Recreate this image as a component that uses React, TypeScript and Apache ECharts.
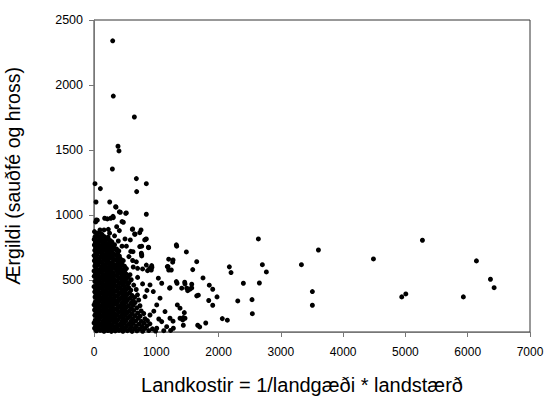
import React, { useEffect, useRef } from "react";
import * as echarts from "echarts";

const xTickValues = [0, 1000, 2000, 3000, 4000, 5000, 6000, 7000];
const yTickValues = [500, 1000, 1500, 2000, 2500];
const xTitle = "Landkostir = 1/landgæði * landstærð";
const yTitle = "Ærgildi (sauðfé og hross)";

// isolated high values
const outlierPoints = [
  [300, 2340], [310, 1915], [648, 1754], [385, 1529], [401, 1493], [295, 1354],
  [16, 1241], [102, 1203], [680, 1280], [840, 1241], [685, 1180], [32, 1100],
  [252, 1100], [353, 1060], [348, 1064], [407, 1024], [423, 1021], [519, 1016],
  [509, 1013], [840, 1006], [53, 960], [27, 947], [37, 962], [171, 975], [214, 970],
  [268, 975], [305, 990], [310, 980], [450, 949], [471, 944], [96, 885], [161, 885],
  [230, 890], [364, 910], [407, 880], [615, 890], [621, 893], [755, 885], [734, 864],
  [658, 852], [653, 854], [840, 816], [830, 813], [498, 816], [583, 808], [814, 808],
  [766, 760], [873, 752], [878, 749], [734, 757], [626, 718], [760, 706], [766, 695],
  [766, 685], [330, 840], [390, 800], [250, 860], [450, 760],
];

// sparse points to the right
const sparsePoints = [
  [1328, 760], [1322, 770], [2639, 816], [1483, 716], [1649, 641], [1585, 580],
  [2173, 601], [2200, 557], [2703, 618], [2767, 562], [1750, 516], [1456, 483],
  [2398, 475], [2655, 477], [1569, 467], [1408, 437], [1488, 437], [1542, 430],
  [1569, 439], [1504, 418], [1851, 460], [1906, 429], [1649, 378], [1675, 383],
  [1975, 370], [1842, 342], [2308, 339], [2537, 349], [1906, 306], [1450, 249],
  [2542, 241], [1434, 211], [1424, 193], [2060, 203], [2141, 191], [1794, 169],
  [1665, 152], [1697, 139], [1434, 152],
  [3603, 731], [3330, 618], [4486, 662], [3506, 411], [3506, 306],
  [5273, 806], [6140, 647], [6365, 506], [6424, 441], [4941, 370], [5006, 393],
  [5930, 370],
];

// fringe of the dense cluster
const fringePoints = [
  [1199, 660], [1263, 637], [1177, 603], [926, 611], [1269, 654], [1188, 603],
  [1241, 577], [1199, 577], [840, 615], [894, 590], [920, 577], [630, 600],
  [700, 590], [780, 585], [860, 572], [930, 598], [1322, 488], [1333, 475],
  [1461, 470], [1510, 431], [1214, 437], [1220, 441], [1033, 514], [1087, 475],
  [952, 411], [899, 462], [1060, 360], [819, 372], [1007, 308], [1338, 308],
  [1381, 283], [1140, 257], [899, 231], [1220, 206], [1381, 206], [1461, 206],
  [1269, 183], [1087, 180], [1167, 141], [1274, 129], [1007, 129], [1120, 110],
  [1230, 112], [560, 680], [620, 650], [700, 520], [780, 470], [850, 420],
  [960, 260], [1040, 200], [680, 640], [590, 720], [520, 760],
];

// dense cluster near the origin
const blobPoints = [
  [8, 872], [42, 858], [85, 866], [128, 851],
  [15, 832], [62, 838], [108, 826], [165, 834], [226, 829],
  [3, 812], [38, 806], [92, 815], [148, 804], [206, 811], [262, 803],
  [22, 791], [71, 786], [118, 795], [184, 788], [238, 781], [288, 792],
  [6, 769], [49, 774], [102, 764], [158, 772], [221, 766], [277, 760], [330, 771],
  [27, 749], [77, 755], [131, 744], [193, 752], [252, 741], [309, 748], [362, 739],
  [11, 728], [54, 735], [106, 722], [167, 731], [224, 725], [286, 719], [346, 733], [398, 724],
  [31, 708], [82, 714], [139, 701], [201, 711], [262, 704], [318, 698], [381, 709],
  [2, 688], [51, 694], [111, 682], [172, 691], [229, 686], [291, 679], [352, 692], [408, 684],
  [21, 669], [74, 662], [136, 673], [194, 664], [256, 671], [314, 660], [376, 668], [428, 661],
  [6, 648], [56, 654], [114, 642], [176, 651], [233, 645], [297, 638], [356, 652], [414, 643], [470, 649],
  [29, 628], [91, 633], [149, 622], [212, 631], [268, 624], [331, 618], [389, 629], [451, 621],
  [12, 608], [64, 613], [126, 602], [184, 611], [246, 604], [303, 598], [366, 609], [424, 601], [490, 606],
  [34, 589], [96, 582], [154, 593], [216, 586], [274, 579], [336, 591], [394, 584], [461, 578], [520, 588],
  [1, 569], [61, 574], [121, 563], [181, 572], [241, 566], [301, 559], [361, 571], [421, 563], [488, 568],
  [26, 548], [84, 554], [146, 543], [204, 551], [266, 545], [324, 539], [386, 552], [446, 544], [511, 549], [578, 541],
  [4, 529], [66, 533], [124, 524], [186, 531], [244, 526], [306, 519], [364, 532], [431, 523], [479, 529], [546, 521],
  [41, 509], [99, 514], [161, 503], [219, 511], [281, 505], [339, 499], [401, 512], [459, 504], [521, 509], [598, 502],
  [14, 489], [76, 493], [134, 484], [196, 491], [254, 485], [316, 479], [374, 492], [436, 483], [499, 488], [561, 481],
  [46, 469], [104, 474], [166, 463], [224, 471], [286, 465], [344, 459], [406, 472], [469, 463], [541, 468], [638, 461],
  [1, 449], [59, 453], [121, 444], [179, 451], [241, 445], [299, 439], [361, 452], [419, 443], [491, 448], [559, 441],
  [29, 429], [91, 434], [149, 423], [211, 431], [269, 425], [331, 419], [389, 432], [456, 424], [519, 429], [591, 421], [678, 427],
  [11, 409], [69, 413], [131, 404], [189, 411], [251, 405], [309, 399], [371, 412], [429, 403], [501, 408], [569, 401],
  [39, 389], [101, 394], [159, 383], [221, 391], [279, 385], [341, 379], [399, 392], [466, 383], [529, 388], [611, 381], [698, 386],
  [16, 369], [74, 373], [136, 364], [194, 371], [256, 365], [314, 359], [376, 372], [441, 363], [504, 368], [576, 361], [651, 366],
  [49, 349], [111, 354], [169, 343], [231, 351], [289, 345], [351, 339], [409, 352], [476, 343], [539, 348], [621, 341], [718, 346],
  [19, 329], [81, 333], [139, 324], [201, 331], [259, 325], [321, 319], [379, 332], [446, 323], [514, 328], [591, 321], [661, 326],
  [1, 309], [54, 314], [116, 303], [174, 311], [236, 305], [294, 299], [356, 312], [419, 303], [486, 308], [554, 301], [631, 306], [738, 302],
  [31, 289], [89, 293], [151, 284], [209, 291], [271, 285], [329, 279], [391, 292], [454, 283], [521, 288], [599, 281], [689, 286],
  [9, 269], [66, 273], [124, 264], [186, 271], [244, 265], [306, 259], [364, 272], [431, 263], [494, 268], [566, 261], [639, 266], [758, 262],
  [41, 249], [99, 253], [161, 244], [219, 251], [281, 245], [339, 239], [401, 252], [464, 243], [536, 248], [609, 241], [701, 246], [798, 242],
  [14, 229], [76, 233], [134, 224], [196, 231], [254, 225], [316, 219], [374, 232], [441, 223], [504, 228], [581, 221], [659, 226], [741, 222],
  [51, 209], [109, 213], [171, 204], [229, 211], [291, 205], [349, 199], [411, 212], [474, 203], [546, 208], [619, 201], [711, 206], [818, 202],
  [19, 189], [81, 193], [139, 184], [201, 191], [259, 185], [321, 179], [379, 192], [446, 183], [514, 188], [591, 181], [669, 186], [761, 182], [858, 188],
  [1, 169], [56, 173], [114, 164], [176, 171], [234, 165], [296, 159], [354, 172], [421, 163], [484, 168], [556, 161], [629, 166], [721, 162], [801, 168], [898, 163],
  [29, 149], [91, 153], [149, 144], [211, 151], [269, 145], [331, 139], [389, 152], [456, 143], [524, 148], [601, 141], [681, 146], [769, 142], [851, 148],
  [9, 129], [66, 133], [124, 124], [186, 131], [244, 125], [306, 119], [364, 132], [431, 123], [496, 128], [569, 121], [651, 126], [729, 122], [821, 128], [938, 124],
  [39, 109], [101, 113], [161, 106], [221, 111], [279, 105], [341, 108], [401, 112], [464, 106], [536, 110], [611, 105], [689, 109], [781, 106], [879, 111], [988, 107],
];

const FONT = "Arial, 'Liberation Sans', sans-serif";

export default function App() {
  const ref = useRef<HTMLDivElement>(null);
  useEffect(() => {
    const chart = echarts.init(ref.current!, null, { renderer: "svg" });
    const allPoints = [...blobPoints, ...fringePoints, ...sparsePoints, ...outlierPoints];
    chart.setOption({
      animation: false,
      backgroundColor: "#ffffff",
      grid: {
        left: 94,
        right: 14,
        top: 20,
        bottom: 72,
        show: true,
        borderColor: "#333333",
        borderWidth: 1,
        containLabel: false,
        outerBoundsMode: "none",
      },
      xAxis: {
        type: "value",
        min: 0,
        max: 7000,
        interval: 1000,
        name: xTitle,
        nameLocation: "middle",
        nameGap: 43,
        nameTextStyle: {
          fontFamily: FONT,
          fontSize: 20,
          color: "#000",
          padding: [0, 20, 0, 0],
        },
        axisLine: { show: true, lineStyle: { color: "#777", width: 1 } },
        axisTick: { show: true, inside: false, length: 5, lineStyle: { color: "#777" } },
        axisLabel: {
          fontFamily: FONT,
          fontSize: 12,
          color: "#000",
          margin: 14,
          formatter: (v: number) => String(v),
        },
        splitLine: { show: false },
      },
      yAxis: {
        type: "value",
        min: 100,
        max: 2500,
        name: yTitle,
        nameLocation: "middle",
        nameGap: 71,
        nameTextStyle: { fontFamily: FONT, fontSize: 19.5, color: "#000" },
        axisLine: { show: true, lineStyle: { color: "#777", width: 1 } },
        axisTick: {
          show: true,
          inside: false,
          length: 5,
          lineStyle: { color: "#777" },
          customValues: yTickValues,
        },
        axisLabel: {
          fontFamily: FONT,
          fontSize: 12.5,
          color: "#000",
          margin: 11,
          customValues: yTickValues,
          formatter: (v: number) => String(v),
        },
        splitLine: { show: false },
      },
      series: [
        {
          type: "scatter",
          data: allPoints,
          symbol: "circle",
          symbolSize: 5,
          clip: false,
          itemStyle: { color: "#000", opacity: 1 },
          silent: true,
        },
      ],
    });
    return () => chart.dispose();
  }, []);
  return (
    <div
      ref={ref}
      style={{ position: "absolute", left: 0, top: 0, width: 544, height: 404, background: "#fff" }}
    />
  );
}
